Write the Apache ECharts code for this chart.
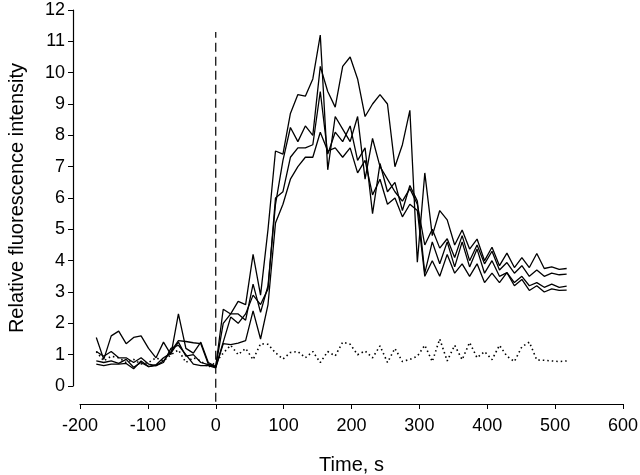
<!DOCTYPE html>
<html>
<head>
<meta charset="utf-8">
<script src="https://cdn.jsdelivr.net/npm/echarts@6/dist/echarts.min.js"></script>
<style>
  html, body { margin: 0; padding: 0; background: #fff; }
  #main { width: 640px; height: 475px; }
</style>
</head>
<body>
<div id="main"></div>
<script>
// 采样时间 (s)
var times = [-176, -165, -154, -143, -132, -121, -110, -99, -88, -77, -66, -55, -44, -33, -22, -11,
  0, 11, 22, 33, 44, 55, 66, 77, 88, 99, 110, 121, 132, 143, 154, 165, 176, 187, 198, 209,
  220, 231, 242, 253, 264, 275, 286, 297, 308, 319, 330, 341, 352, 363, 374, 385, 396, 407,
  418, 429, 440, 451, 462, 473, 484, 495, 506, 517]

// 四条实线 (细胞) + 一条点线 (对照)
var cellA = [1.55, 0.85, 1.6, 1.75, 1.35, 1.55, 1.6, 1.2, 0.9, 1.4, 1.0, 2.3, 1.2, 1.05, 1.4, 0.75,
  0.62, 2.45, 2.3, 2.7, 2.6, 4.2, 2.9, 5.0, 7.5, 7.4, 8.7, 9.3, 9.25, 9.8, 11.2, 6.9, 8.6, 8.2, 7.8, 8.6,
  6.6, 7.9, 7.0, 6.6, 6.2, 5.9, 6.3, 5.8, 4.5, 5.0, 4.4, 4.7, 4.1, 4.8, 4.0, 4.5, 3.9, 4.3,
  3.7, 3.94, 3.6, 3.84, 3.5, 3.7, 3.5, 3.6, 3.55, 3.57]
var cellB = [1.1, 0.95, 1.1, 0.9, 0.9, 0.75, 0.9, 0.7, 0.65, 0.8, 1.1, 1.45, 1.42, 1.38, 1.35, 0.7,
  0.62, 2.0, 2.3, 2.3, 2.1, 3.25, 2.35, 3.2, 5.8, 7.2, 8.25, 7.8, 8.3, 8.0, 10.2, 9.4, 8.9, 10.2, 10.5, 9.8,
  8.6, 9.0, 9.3, 9.0, 7.0, 7.7, 8.8, 3.95, 6.8, 4.8, 5.6, 5.3, 4.5, 4.98, 4.37, 4.69, 4.0, 4.43,
  3.84, 4.24, 3.78, 4.1, 3.78, 4.23, 3.75, 3.8, 3.72, 3.75]
var cellC = [0.8, 0.75, 0.8, 0.72, 0.85, 0.6, 0.75, 0.62, 0.68, 0.9, 1.05, 1.4, 0.95, 1.0, 0.75, 0.68,
  0.6, 1.4, 2.2, 2.0, 2.3, 2.9, 2.6, 3.1, 6.0, 6.2, 7.3, 7.6, 7.6, 7.7, 9.4, 7.4, 8.1, 7.8, 8.3, 7.2,
  7.6, 5.5, 7.1, 6.2, 6.5, 5.6, 6.4, 5.9, 3.6, 4.6, 3.9, 4.6, 3.8, 4.6, 3.8, 4.37, 3.6, 4.0,
  3.5, 3.62, 3.3, 3.5, 3.2, 3.3, 3.15, 3.25, 3.15, 3.19]
var cellD = [0.7, 0.65, 0.7, 0.7, 0.72, 0.55, 0.8, 0.62, 0.65, 0.75, 1.2, 1.3, 1.0, 0.7, 0.65, 0.65,
  0.58, 1.35, 1.32, 1.37, 1.45, 2.4, 1.5, 2.6, 5.2, 5.8, 6.6, 7.0, 7.3, 7.3, 8.1, 7.5, 7.6, 7.3, 7.6, 6.8,
  7.2, 6.1, 6.6, 5.8, 6.0, 5.4, 5.8, 5.6, 3.5, 4.0, 3.5, 4.2, 3.6, 3.9, 3.5, 3.9, 3.3, 3.6,
  3.3, 3.62, 3.2, 3.4, 3.05, 3.2, 3.0, 3.1, 3.05, 3.06]
var control = [1.1, 0.8, 0.95, 0.9, 0.75, 0.85, 0.7, 0.75, 0.9, 0.8, 1.0, 1.15, 0.75, 0.9, 0.8, 0.6,
  0.75, 1.05, 1.3, 1.0, 1.2, 0.84, 1.35, 1.33, 1.06, 0.86, 1.07, 1.1, 0.9, 1.1, 0.75, 1.1, 0.96, 1.4, 1.33, 1.0,
  1.12, 0.9, 1.28, 0.75, 1.2, 0.78, 0.85, 0.95, 1.3, 0.78, 1.5, 0.8, 1.3, 0.84, 1.39, 0.9, 1.1, 0.84,
  1.3, 0.95, 0.78, 1.25, 1.4, 0.83, 0.82, 0.8, 0.78, 0.8]

// 刺激时刻的竖虚线
var stimX = [0, 0]
var stimY = [-0.5, 11.3]

function pairs(xs, ys) {
  return xs.map(function (x, i) { return [x, ys[i]] })
}

var myChart = echarts.init(document.getElementById('main'))
var font = 'Liberation Sans, Arial, sans-serif'

function cellSeries(values) {
  return {
    type: 'line',
    data: pairs(times, values),
    symbol: 'none',
    lineStyle: { color: '#000', width: 1.3 },
    animation: false,
  }
}

var option = {
  backgroundColor: '#fff',
  grid: { left: 80, right: 17, top: 10, bottom: 89, outerBoundsMode: 'none' },
  xAxis: {
    type: 'value',
    min: -200,
    max: 600,
    interval: 100,
    offset: 18,
    name: 'Time, s',
    nameLocation: 'middle',
    nameGap: 51,
    nameTextStyle: { color: '#000', fontSize: 20, fontFamily: font },
    axisLine: { onZero: false, lineStyle: { color: '#000', width: 1.2 } },
    axisTick: { length: 5, lineStyle: { color: '#000' } },
    axisLabel: { color: '#000', fontSize: 18, fontFamily: font, margin: 13 },
    splitLine: { show: false },
  },
  yAxis: {
    type: 'value',
    min: 0,
    max: 12,
    interval: 1,
    offset: 7,
    name: 'Relative fluorescence intensity',
    nameLocation: 'middle',
    nameGap: 46,
    nameTextStyle: { color: '#000', fontSize: 20, fontFamily: font },
    axisLine: { show: true, onZero: false, lineStyle: { color: '#000', width: 1.2 } },
    axisTick: { show: true, length: 5, lineStyle: { color: '#000' } },
    axisLabel: { color: '#000', fontSize: 18, fontFamily: font, margin: 8 },
    splitLine: { show: false },
  },
  series: [
    cellSeries(cellA),
    cellSeries(cellB),
    cellSeries(cellC),
    cellSeries(cellD),
    {
      type: 'line',
      data: pairs(times, control),
      symbol: 'none',
      lineStyle: { color: '#000', width: 1.6, type: [1.5, 3] },
      animation: false,
    },
    {
      type: 'line',
      data: pairs(stimX, stimY),
      symbol: 'none',
      clip: false,
      lineStyle: { color: '#000', width: 1.2, type: [9, 5] },
      animation: false,
    },
  ],
}
myChart.setOption(option)
</script>
</body>
</html>
